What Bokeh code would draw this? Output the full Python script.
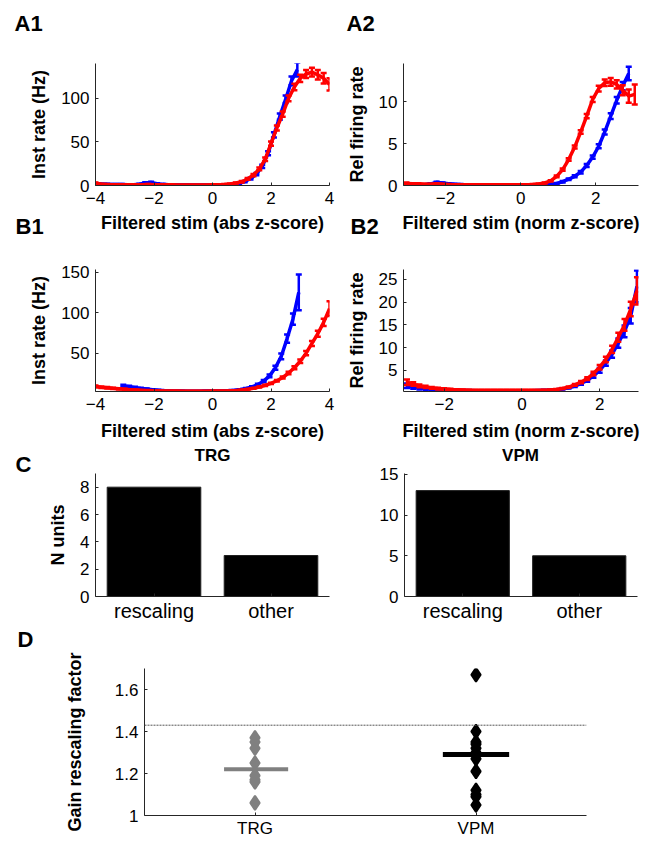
import numpy as np
from bokeh.plotting import figure
from bokeh.models import Range1d, FixedTicker, Label, Span
from bokeh.layouts import column, row
from bokeh.embed import file_html
from bokeh.resources import INLINE

FONT = "Liberation Sans"
AX = "#262626"
BLUE = "#0000ff"
RED = "#ff0000"

# ---------------- data ----------------
# A1: inst rate vs filtered stim (abs z-score)
a1_red_x = [-4.0, -3.8, -3.6, -3.4, -3.2, -3.0, -2.8, -2.6, -2.4, -2.2,
            -2.0, -1.8, -1.6, -1.4, -1.2, -1.0, -0.8, -0.6, -0.4, -0.2,
            0.0, 0.2, 0.4, 0.6, 0.8, 1.0, 1.2, 1.4, 1.6, 1.8,
            2.0, 2.2, 2.4, 2.6, 2.8, 3.0, 3.2, 3.4, 3.6, 3.8, 4.0]
a1_red_y = [2.5, 1.5, 1.2, 1.0, 1.0, 1.0, 0.9, 0.9, 1.0, 1.2,
            1.0, 0.9, 0.8, 0.8, 0.7, 0.7, 0.7, 0.7, 0.7, 0.7,
            0.8, 0.9, 1.2, 1.8, 2.8, 4.3, 7.5, 12.0, 19.0, 30.0,
            48.0, 66.0, 82.0, 100.0, 113.0, 123.0, 128.0, 130.0, 127.0, 123.0, 116.0]
a1_red_e = [1.0, 0.6, 0.5, 0.4, 0.4, 0.4, 0.4, 0.4, 0.4, 0.5,
            0.4, 0.4, 0.3, 0.3, 0.3, 0.3, 0.3, 0.3, 0.3, 0.3,
            0.3, 0.3, 0.4, 0.5, 0.6, 0.8, 1.0, 1.3, 1.6, 2.0,
            2.4, 2.8, 3.0, 3.4, 3.8, 4.2, 4.6, 5.0, 5.5, 6.0, 7.0]
a1_blue_x = [-3.9, -3.7, -3.5, -3.3, -3.1, -2.9, -2.7, -2.5, -2.3, -2.1,
             -1.9, -1.7, -1.5, -1.3, -1.1, -0.9, -0.7, -0.5, -0.3, -0.1,
             0.1, 0.3, 0.5, 0.7, 0.9, 1.1, 1.3, 1.5, 1.7, 1.9,
             2.1, 2.3, 2.5, 2.7, 2.9]
a1_blue_y = [1.8, 1.5, 1.3, 1.2, 1.1, 1.0, 1.0, 1.4, 3.0, 3.5,
             2.0, 1.3, 1.0, 0.9, 0.8, 0.8, 0.7, 0.7, 0.7, 0.7,
             0.7, 0.8, 1.0, 1.4, 2.2, 4.5, 8.0, 13.0, 22.0, 37.0,
             58.0, 79.0, 99.0, 120.0, 133.0]
a1_blue_e = [0.8, 0.6, 0.5, 0.5, 0.5, 0.5, 0.5, 0.6, 0.8, 0.8,
             0.6, 0.5, 0.4, 0.4, 0.3, 0.3, 0.3, 0.3, 0.3, 0.3,
             0.3, 0.3, 0.3, 0.4, 0.5, 0.7, 1.0, 1.3, 1.8, 2.4,
             3.0, 3.6, 4.2, 5.0, 8.0]

# A2: relative firing rate vs filtered stim (norm z-score)
a2_x = [-3.04, -2.88, -2.72, -2.56, -2.40, -2.24, -2.08, -1.92, -1.76, -1.60,
        -1.44, -1.28, -1.12, -0.96, -0.80, -0.64, -0.48, -0.32, -0.16, 0.00,
        0.16, 0.32, 0.48, 0.64, 0.80, 0.96, 1.12, 1.28, 1.44, 1.60,
        1.76, 1.92, 2.08, 2.24, 2.40, 2.56, 2.72, 2.88, 3.04]
a2_red_y = [0.25, 0.2, 0.2, 0.15, 0.15, 0.2, 0.15, 0.12, 0.1, 0.1,
            0.1, 0.1, 0.1, 0.1, 0.1, 0.1, 0.1, 0.1, 0.1, 0.1,
            0.1, 0.12, 0.18, 0.3, 0.55, 1.1, 1.9, 3.1, 4.6, 6.4,
            8.3, 10.3, 11.6, 12.3, 12.4, 12.1, 11.4, 10.7, 10.9]
a2_red_e = [0.1, 0.08, 0.08, 0.06, 0.06, 0.08, 0.06, 0.05, 0.05, 0.05,
            0.05, 0.05, 0.05, 0.05, 0.05, 0.05, 0.05, 0.05, 0.05, 0.05,
            0.05, 0.05, 0.05, 0.06, 0.08, 0.1, 0.12, 0.15, 0.18, 0.2,
            0.25, 0.3, 0.35, 0.4, 0.45, 0.5, 0.6, 0.8, 1.2]
a2_blue_y = [0.1, 0.1, 0.1, 0.1, 0.2, 0.38, 0.3, 0.2, 0.15, 0.12,
             0.1, 0.1, 0.1, 0.1, 0.1, 0.1, 0.1, 0.1, 0.1, 0.1,
             0.08, 0.08, 0.08, 0.1, 0.15, 0.25, 0.45, 0.75, 1.1, 1.6,
             2.4, 3.4, 4.7, 6.4, 8.3, 10.2, 11.9, 13.4]
a2_blue_e = [0.05, 0.05, 0.05, 0.05, 0.06, 0.08, 0.07, 0.06, 0.05, 0.05,
             0.05, 0.05, 0.05, 0.05, 0.05, 0.05, 0.05, 0.05, 0.05, 0.05,
             0.05, 0.05, 0.05, 0.05, 0.05, 0.06, 0.08, 0.1, 0.12, 0.15,
             0.18, 0.2, 0.25, 0.3, 0.35, 0.4, 0.5, 0.8]

# B1: inst rate vs filtered stim (abs z-score)
b1_red_x = a1_red_x
b1_red_y = [9.0, 8.0, 7.3, 6.6, 6.0, 5.5, 5.0, 4.5, 4.1, 3.8,
            3.5, 3.4, 3.3, 3.2, 3.2, 3.1, 3.1, 3.1, 3.1, 3.1,
            3.2, 3.3, 3.4, 3.6, 4.0, 4.6, 5.5, 6.6, 8.2, 10.2,
            12.8, 16.0, 20.0, 25.5, 32.0, 40.0, 50.0, 62.0, 74.0, 88.0, 105.0]
b1_red_e = [1.2, 1.0, 0.9, 0.8, 0.7, 0.7, 0.6, 0.6, 0.5, 0.5,
            0.4, 0.4, 0.4, 0.4, 0.4, 0.4, 0.4, 0.4, 0.4, 0.4,
            0.3, 0.3, 0.3, 0.3, 0.3, 0.4, 0.4, 0.5, 0.6, 0.7,
            0.8, 1.0, 1.2, 1.5, 1.8, 2.2, 2.6, 3.0, 3.6, 4.5, 9.0]
b1_blue_x = [-3.05, -2.85, -2.65, -2.45, -2.25, -2.05, -1.85, -1.65, -1.45, -1.25,
             -1.05, -0.85, -0.65, -0.45, -0.25, -0.05, 0.15, 0.35, 0.55, 0.75,
             0.95, 1.15, 1.35, 1.55, 1.75, 1.95, 2.15, 2.35, 2.55, 2.75, 2.95]
b1_blue_y = [9.5, 8.5, 7.5, 6.5, 5.7, 4.9, 4.3, 3.8, 3.5, 3.3,
             3.2, 3.1, 3.1, 3.1, 3.2, 3.2, 3.3, 3.5, 3.8, 4.3,
             5.1, 6.4, 8.3, 11.2, 15.5, 22.0, 32.0, 46.0, 68.0, 92.0, 125.0]
b1_blue_e = [1.5, 1.2, 1.0, 0.9, 0.8, 0.7, 0.6, 0.5, 0.5, 0.4,
             0.4, 0.3, 0.3, 0.3, 0.3, 0.3, 0.3, 0.3, 0.4, 0.4,
             0.5, 0.6, 0.8, 1.0, 1.3, 1.8, 2.5, 3.5, 5.0, 7.0, 22.0]

# B2: relative firing rate vs filtered stim (norm z-score)
b2_x = [-2.96, -2.80, -2.64, -2.48, -2.32, -2.16, -2.00, -1.84, -1.68, -1.52,
        -1.36, -1.20, -1.04, -0.88, -0.72, -0.56, -0.40, -0.24, -0.08, 0.08,
        0.24, 0.40, 0.56, 0.72, 0.88, 1.04, 1.20, 1.36, 1.52, 1.68,
        1.84, 2.00, 2.16, 2.32, 2.48, 2.64, 2.80, 2.96]
b2_red_y = [2.4, 2.0, 1.6, 1.35, 1.15, 1.0, 0.9, 0.8, 0.75, 0.7,
            0.65, 0.6, 0.6, 0.6, 0.6, 0.6, 0.6, 0.6, 0.6, 0.6,
            0.6, 0.6, 0.65, 0.7, 0.8, 1.0, 1.3, 1.8, 2.4, 3.2,
            4.3, 5.7, 7.4, 9.6, 12.3, 15.0, 18.5, 22.5]
b2_red_e = [0.6, 0.4, 0.3, 0.25, 0.2, 0.2, 0.15, 0.15, 0.1, 0.1,
            0.1, 0.1, 0.1, 0.1, 0.1, 0.1, 0.1, 0.1, 0.1, 0.1,
            0.1, 0.1, 0.1, 0.1, 0.1, 0.1, 0.15, 0.2, 0.25, 0.3,
            0.4, 0.5, 0.6, 0.8, 1.0, 1.3, 1.6, 3.0]
b2_blue_y = [1.6, 1.3, 1.1, 0.95, 0.85, 0.75, 0.7, 0.65, 0.6, 0.55,
             0.55, 0.5, 0.5, 0.5, 0.5, 0.5, 0.5, 0.5, 0.5, 0.5,
             0.5, 0.55, 0.6, 0.65, 0.75, 0.9, 1.15, 1.55, 2.1, 2.8,
             3.8, 5.0, 6.6, 8.6, 11.0, 13.6, 17.0, 23.5]
b2_blue_e = [0.5, 0.35, 0.3, 0.25, 0.2, 0.15, 0.15, 0.1, 0.1, 0.1,
             0.1, 0.1, 0.1, 0.1, 0.1, 0.1, 0.1, 0.1, 0.1, 0.1,
             0.1, 0.1, 0.1, 0.1, 0.1, 0.1, 0.15, 0.2, 0.25, 0.3,
             0.4, 0.5, 0.6, 0.8, 1.0, 1.3, 1.7, 3.5]

# C: number of units
c_categories = ["rescaling", "other"]
c_trg_counts = [8, 3]
c_vpm_counts = [13, 5]

# D: gain rescaling factors
d_groups = ["TRG", "VPM"]
d_trg_gain = [1.37, 1.35, 1.32, 1.25, 1.19, 1.17, 1.16, 1.06]
d_vpm_gain = [1.67, 1.40, 1.35, 1.34, 1.32, 1.30, 1.29, 1.27, 1.21, 1.12, 1.10, 1.09, 1.05]
d_trg_median = 1.22
d_vpm_median = 1.29
d_threshold = 1.43


# ---------------- helpers ----------------
def make(width, height, left, right, top, bottom, xr, yr, xticks, yticks,
         xlabel=None, ylabel=None, ylabel_standoff=9, xlabel_standoff=4):
    p = figure(width=width, height=height, x_range=Range1d(*xr), y_range=Range1d(*yr),
               output_backend="svg", toolbar_location=None,
               min_border_left=left, min_border_right=right,
               min_border_top=top, min_border_bottom=bottom)
    p.grid.visible = False
    p.outline_line_color = None
    p.background_fill_color = "white"
    p.border_fill_color = "white"
    xa, ya = p.xaxis[0], p.yaxis[0]
    for ax in (xa, ya):
        ax.axis_line_color = AX
        ax.axis_line_width = 1
        ax.major_tick_line_color = AX
        ax.major_tick_in = 3
        ax.major_tick_out = 0
        ax.minor_tick_line_color = None
        ax.major_label_text_font = FONT
        ax.major_label_text_font_size = "17px"
        ax.major_label_text_color = "black"
        ax.axis_label_text_font = FONT
        ax.axis_label_text_font_size = "18px"
        ax.axis_label_text_font_style = "bold"
        ax.axis_label_text_color = "black"
    xa.ticker = FixedTicker(ticks=xticks)
    ya.ticker = FixedTicker(ticks=yticks)
    xa.major_label_standoff = 6
    xa.axis_label_standoff = xlabel_standoff
    ya.major_label_standoff = 6
    ya.axis_label_standoff = ylabel_standoff
    if xlabel:
        xa.axis_label = xlabel
    if ylabel:
        ya.axis_label = ylabel
    return p


def strip(width, height, top=0, bottom=0):
    p = figure(width=width, height=height, x_range=Range1d(0, 1), y_range=Range1d(0, 1),
               output_backend="svg", toolbar_location=None, x_axis_type=None, y_axis_type=None,
               min_border_left=0, min_border_right=0, min_border_top=top, min_border_bottom=bottom)
    p.grid.visible = False
    p.outline_line_color = None
    p.background_fill_color = "white"
    p.border_fill_color = "white"
    return p


def mklabel(text, sx, sy, size="22px", align="left"):
    return Label(x=sx, y=sy, x_units="screen", y_units="screen", text=text,
                 text_font=FONT, text_font_style="bold", text_font_size=size,
                 text_align=align, text_baseline="middle", text_color="black")


def errline(p, x, y, e, color):
    x = np.asarray(x, float)
    y = np.asarray(y, float)
    e = np.asarray(e, float)
    p.segment(x0=x, y0=y - e, x1=x, y1=y + e, line_color=color, line_width=2.5)
    p.scatter(x=np.concatenate([x, x]), y=np.concatenate([y - e, y + e]), marker="dash",
              size=6, line_color=color, line_width=2.5)
    p.line(x, y, line_color=color, line_width=3.5)


# ---------------- panels ----------------
# top strip with panel letters A1 / A2
SA = strip(651, 36)
SA.add_layout(mklabel("A1", 14, 13))
SA.add_layout(mklabel("A2", 346, 13))

A1 = make(338, 204, 95, 9, 27, 55, (-4, 4), (0, 140), [-4, -2, 0, 2, 4], [0, 50, 100],
          "Filtered stim (abs z-score)", "Inst rate (Hz)", xlabel_standoff=6)
errline(A1, a1_blue_x, a1_blue_y, a1_blue_e, BLUE)
errline(A1, a1_red_x, a1_red_y, a1_red_e, RED)
A1.add_layout(mklabel("B1", -80, -163), "above")

A2 = make(313, 204, 65, 13, 27, 55, (-3.12, 3.14), (0, 14.6), [-2, 0, 2], [0, 5, 10],
          "Filtered stim (norm z-score)", "Rel firing rate", xlabel_standoff=6)
errline(A2, a2_x[:len(a2_blue_y)], a2_blue_y, a2_blue_e, BLUE)
errline(A2, a2_x, a2_red_y, a2_red_e, RED)
A2.add_layout(mklabel("B2", -53, -163), "above")

B1 = make(338, 204, 95, 9, 29, 53, (-4, 4), (2.7, 153.3), [-4, -2, 0, 2, 4], [50, 100, 150],
          "Filtered stim (abs z-score)", "Inst rate (Hz)", xlabel_standoff=8)
errline(B1, b1_blue_x, b1_blue_y, b1_blue_e, BLUE)
errline(B1, b1_red_x, b1_red_y, b1_red_e, RED)

B2 = make(313, 204, 65, 13, 29, 53, (-3.05, 3.0), (0.35, 27.2), [-2, 0, 2], [5, 10, 15, 20, 25],
          "Filtered stim (norm z-score)", "Rel firing rate", xlabel_standoff=8)
errline(B2, b2_x, b2_blue_y, b2_blue_e, BLUE)
errline(B2, b2_x, b2_red_y, b2_red_e, RED)

# C panels
SC = strip(40, 181, top=29, bottom=29)
SC.add_layout(mklabel("C", 15, 9), "above")

cat_pos = [1, 2]
CL = make(298, 181, 55, 9, 29, 29, (0.5, 2.5), (0, 9), cat_pos, [0, 2, 4, 6, 8],
          None, "N units")
CL.vbar(x=cat_pos, top=c_trg_counts, width=0.8, fill_color="black", line_color="#202020")
CL.xaxis[0].major_label_overrides = {1: c_categories[0], 2: c_categories[1]}
CL.xaxis[0].major_label_text_font_size = "20px"
CL.xaxis[0].major_label_standoff = 3
CL.add_layout(mklabel("TRG", 117, 18, size="17px", align="center"), "above")

CR = make(313, 181, 66, 14, 29, 29, (0.5, 2.5), (0, 15.1), cat_pos, [0, 5, 10, 15])
CR.vbar(x=cat_pos, top=c_vpm_counts, width=0.8, fill_color="black", line_color="#202020")
CR.xaxis[0].major_label_overrides = {1: c_categories[0], 2: c_categories[1]}
CR.xaxis[0].major_label_text_font_size = "20px"
CR.xaxis[0].major_label_standoff = 3
CR.add_layout(mklabel("VPM", 116, 18, size="17px", align="center"), "above")

# D panel
D = make(651, 216, 144, 65, 43, 26, (0.5, 2.5), (1, 1.7), cat_pos, [1, 1.2, 1.4, 1.6],
         None, "Gain rescaling factor", ylabel_standoff=27)
D.yaxis[0].major_label_overrides = {1: "1", 1.2: "1.2", 1.4: "1.4", 1.6: "1.6"}
D.xaxis[0].major_label_overrides = {1: d_groups[0], 2: d_groups[1]}
D.xaxis[0].major_label_standoff = 3
D.add_layout(Span(location=d_threshold, dimension="width", line_color="#555555",
                  line_width=1, line_dash="2 1"))
D.scatter(x=[1] * len(d_trg_gain), y=d_trg_gain, marker="diamond", size=14,
          fill_color="#808080", line_color="#808080", line_width=2)
D.scatter(x=[2] * len(d_vpm_gain), y=d_vpm_gain, marker="diamond", size=14,
          fill_color="black", line_color="black", line_width=2)
D.segment(x0=[1 - 0.14], y0=[d_trg_median], x1=[1 + 0.15], y1=[d_trg_median],
          line_color="#808080", line_width=4)
D.segment(x0=[2 - 0.15], y0=[d_vpm_median], x1=[2 + 0.15], y1=[d_vpm_median],
          line_color="black", line_width=5)
D.add_layout(mklabel("D", -127, 29), "above")

layout = column(row(SA), row(A1, A2), row(B1, B2), row(SC, CL, CR), row(D))

open("out.html", "w").write(file_html(layout, INLINE))
